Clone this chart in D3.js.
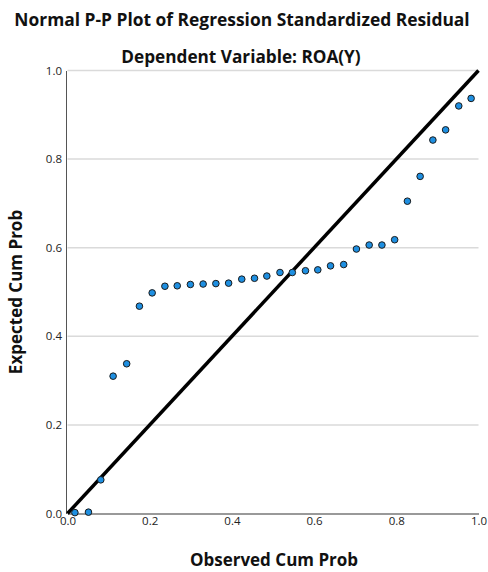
<!DOCTYPE html>
<html>
<head>
<meta charset="utf-8">
<script src="https://cdn.jsdelivr.net/npm/d3@7"></script>
<style>
  body { margin: 0; background: #fff; }
  svg { display: block; }
</style>
</head>
<body>
<svg width="488" height="572"></svg>
<script>
// наблюдаемые накопленные вероятности (ось X)
const observed = [0.018, 0.051, 0.081, 0.111, 0.144, 0.175, 0.206, 0.237,
    0.267, 0.299, 0.330, 0.361, 0.392, 0.424, 0.455, 0.485,
    0.517, 0.547, 0.579, 0.609, 0.640, 0.672, 0.703, 0.734,
    0.765, 0.796, 0.827, 0.858, 0.889, 0.920, 0.952, 0.982];
// ожидаемые накопленные вероятности (ось Y)
const expected = [0.002, 0.003, 0.076, 0.310, 0.338, 0.468, 0.498, 0.513,
    0.514, 0.517, 0.518, 0.519, 0.520, 0.529, 0.531, 0.536,
    0.544, 0.544, 0.548, 0.550, 0.559, 0.562, 0.597, 0.606,
    0.606, 0.618, 0.705, 0.761, 0.843, 0.866, 0.920, 0.937];
const ticks = [0.0, 0.2, 0.4, 0.6, 0.8, 1.0];
const titleText = "Normal P-P Plot of Regression Standardized Residual";
const subtitleText = "Dependent Variable: ROA(Y)";
const xTitle = "Observed Cum Prob";
const yTitle = "Expected Cum Prob";

const svg = d3.select("svg");
const plotLeft = 67.5, plotRight = 478.5, plotTop = 70.5, plotBottom = 513.5;
const font = "'Open Sans', 'DejaVu Sans', sans-serif";

const x = d3.scaleLinear().domain([0, 1]).range([plotLeft, plotRight]);
const y = d3.scaleLinear().domain([0, 1]).range([plotBottom, plotTop]);

const data = observed.map((o, i) => ({x: o, y: expected[i]}));

// горизонтальная сетка
svg.append("g")
    .selectAll("line")
    .data(ticks.filter(t => t > 0))
    .join("line")
    .attr("x1", plotLeft).attr("x2", plotRight)
    .attr("y1", d => y(d)).attr("y2", d => y(d))
    .attr("stroke", "#dadada")
    .attr("stroke-width", 1.5);

// оси
const yAxis = svg.append("g")
    .attr("transform", `translate(${plotLeft - 1.5},0)`)
    .call(d3.axisLeft(y).tickValues(ticks).tickFormat(d3.format(".1f")).tickSize(0).tickPadding(4));
yAxis.select(".domain").attr("stroke", "#555").attr("stroke-width", 1);
yAxis.selectAll("text").attr("font-family", font).attr("font-size", 11.5).attr("fill", "#222");

const xAxis = svg.append("g")
    .attr("transform", `translate(0,${plotBottom})`)
    .call(d3.axisBottom(x).tickValues(ticks).tickFormat(d3.format(".1f")).tickSize(0).tickPadding(3));
xAxis.select(".domain").attr("stroke", "#999").attr("stroke-width", 2);
xAxis.selectAll("text").attr("font-family", font).attr("font-size", 11.5).attr("fill", "#222");

// диагональ
svg.append("line")
    .attr("x1", x(0)).attr("y1", y(0))
    .attr("x2", x(1)).attr("y2", y(1))
    .attr("stroke", "#000")
    .attr("stroke-width", 3.5);

// точки
svg.append("g")
    .selectAll("circle")
    .data(data)
    .join("circle")
    .attr("cx", d => x(d.x))
    .attr("cy", d => y(d.y))
    .attr("r", 3.3)
    .attr("fill", "#1e8fe1")
    .attr("stroke", "#1b1b1b")
    .attr("stroke-width", 1);

// заголовки
svg.append("text")
    .attr("x", 242).attr("y", 26)
    .attr("text-anchor", "middle")
    .attr("font-family", font).attr("font-weight", "bold").attr("font-size", 17.4)
    .attr("fill", "#111")
    .text(titleText);

svg.append("text")
    .attr("x", 241).attr("y", 63)
    .attr("text-anchor", "middle")
    .attr("font-family", font).attr("font-weight", "bold").attr("font-size", 17.2)
    .attr("fill", "#111")
    .text(subtitleText);

svg.append("text")
    .attr("x", 274).attr("y", 566)
    .attr("text-anchor", "middle")
    .attr("font-family", font).attr("font-weight", "bold").attr("font-size", 17)
    .attr("fill", "#111")
    .text(xTitle);

svg.append("text")
    .attr("transform", "translate(22,292) rotate(-90)")
    .attr("text-anchor", "middle")
    .attr("font-family", font).attr("font-weight", "bold").attr("font-size", 17)
    .attr("fill", "#111")
    .text(yTitle);
</script>
</body>
</html>
